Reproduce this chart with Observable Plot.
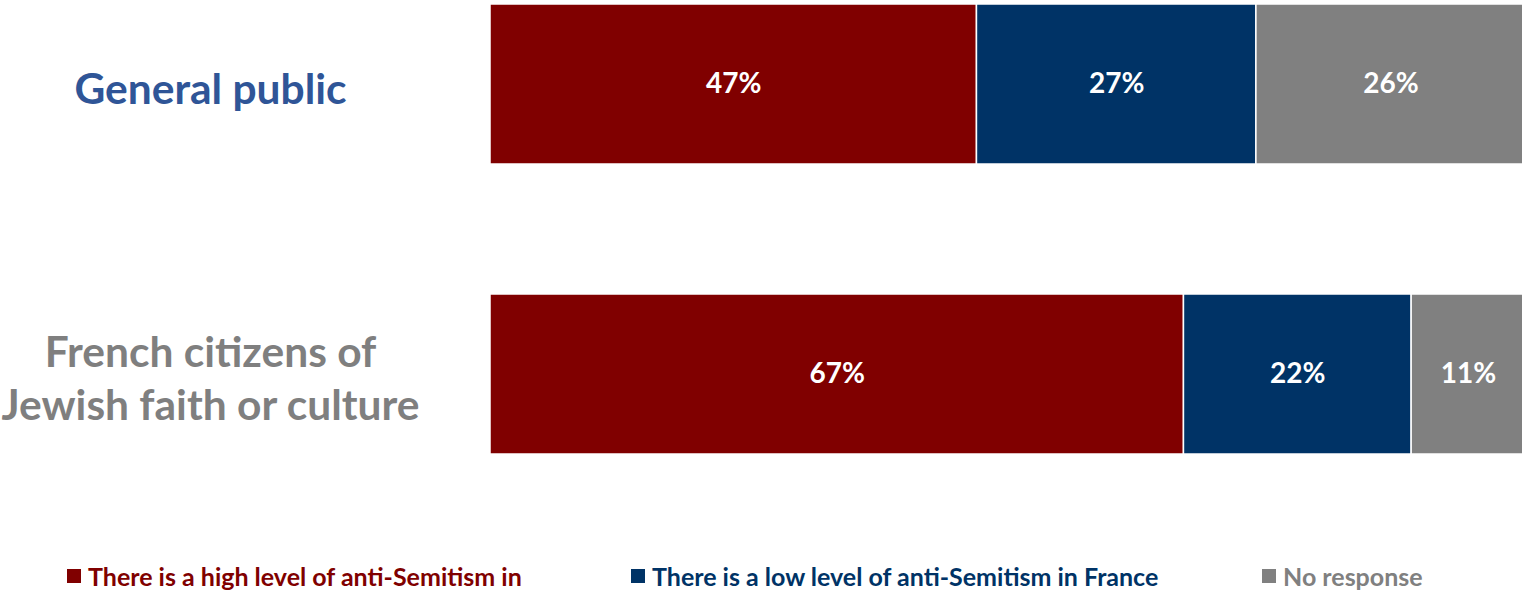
<!DOCTYPE html>
<html>
<head>
<meta charset="utf-8">
<script src="https://cdn.jsdelivr.net/npm/d3@7"></script>
<script src="https://cdn.jsdelivr.net/npm/@observablehq/plot@0.6"></script>
<style>
  html, body { margin: 0; padding: 0; background: #fff; overflow: hidden; }
  #chart svg { display: block; }
  .legend { position: relative; height: 38px; font-family: Lato, "Open Sans", sans-serif; font-weight: 700; font-size: 25px; }
  .legend .item { position: absolute; top: 6px; display: flex; align-items: center; white-space: nowrap; }
  .legend .sw { width: 14px; height: 14px; margin-right: 7px; }
</style>
</head>
<body>
<div id="chart"></div>
<div class="legend" id="legend"></div>
<script>
const groups = ["General public", "French citizens of Jewish faith or culture"];
const groupLabels = ["General public", "French citizens of\nJewish faith or culture"];
const groupColors = ["#2F5597", "#7F7F7F"];
const series = [
  "There is a high level of anti-Semitism in",
  "There is a low level of anti-Semitism in France",
  "No response"
];
const seriesColors = ["#800000", "#003366", "#808080"];
const legendTextColors = ["#800000", "#003366", "#808080"];
const highValues = [47, 67];
const lowValues = [27, 22];
const noResponseValues = [26, 11];

const valuesBySeries = [highValues, lowValues, noResponseValues];
const rows = [];
groups.forEach((g, gi) => {
  series.forEach((s, si) => {
    rows.push({group: g, series: s, value: valuesBySeries[si][gi]});
  });
});

const chart = Plot.plot({
  width: 1522,
  height: 555,
  marginLeft: 490,
  marginRight: 0,
  marginTop: 3,
  marginBottom: 101,
  style: {fontFamily: "Lato, 'Open Sans', sans-serif", background: "#fff"},
  x: {domain: [0, 100], range: [490, 1525], axis: null},
  y: {domain: groups, axis: null, paddingInner: 0.45, paddingOuter: 0},
  color: {domain: series, range: seriesColors},
  marks: [
    Plot.barX(rows, Plot.stackX({x: "value", y: "group", fill: "series", stroke: "white", strokeWidth: 1.5})),
    Plot.text(rows, Plot.stackX({x: "value", y: "group", text: d => d.value + "%", fill: "white", fontSize: 28, fontWeight: 700})),
    Plot.text(groups, {
      y: d => d,
      text: (d, i) => groupLabels[i],
      frameAnchor: "left",
      textAnchor: "middle",
      dx: -280,
      dy: 2,
      fill: (d, i) => groupColors[i],
      fontSize: 42.5,
      fontWeight: 700,
      lineHeight: 1.25
    })
  ]
});
document.getElementById("chart").appendChild(chart);

const legendX = [67, 631, 1262];
const legend = document.getElementById("legend");
series.forEach((s, i) => {
  const item = document.createElement("div");
  item.className = "item";
  item.style.left = legendX[i] + "px";
  const sw = document.createElement("span");
  sw.className = "sw";
  sw.style.background = seriesColors[i];
  const t = document.createElement("span");
  t.textContent = s;
  t.style.color = legendTextColors[i];
  item.appendChild(sw);
  item.appendChild(t);
  legend.appendChild(item);
});
</script>
</body>
</html>
